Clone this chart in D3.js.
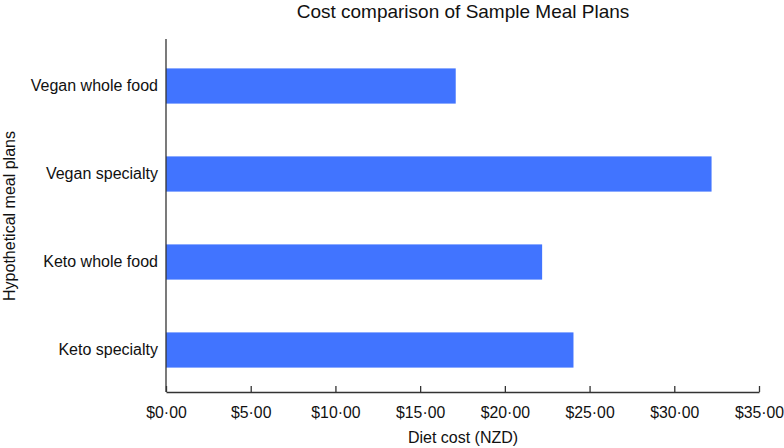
<!DOCTYPE html>
<html>
<head>
<meta charset="utf-8">
<script src="https://cdn.jsdelivr.net/npm/d3@7"></script>
<style>
  html, body { margin: 0; padding: 0; background: #fff; }
  svg { display: block; font-family: "Liberation Sans", Arial, sans-serif; }
</style>
</head>
<body>
<div id="chart"></div>
<script>
const plans = ['Vegan whole food', 'Vegan specialty', 'Keto whole food', 'Keto specialty'];
const costs = [17.1, 32.2, 22.2, 24.05];
const xTicks = [0, 5, 10, 15, 20, 25, 30, 35];

const width = 784;
const height = 448;
const margin = { top: 39, right: 25, bottom: 56, left: 166 };
const ink = '#111';

const svg = d3.select('#chart').append('svg')
  .attr('width', width).attr('height', height);

const x = d3.scaleLinear().domain([0, 35]).range([margin.left, width - margin.right]);
const y = d3.scaleBand().domain(plans).range([42, 394]).paddingInner(0.6).paddingOuter(0.3);
const axisY = height - margin.bottom;

svg.append('text').attr('x', 463).attr('y', 18).attr('text-anchor', 'middle')
  .attr('font-size', 19).attr('fill', ink).text('Cost comparison of Sample Meal Plans');

// bars
svg.append('g').selectAll('rect').data(plans).join('rect')
  .attr('x', x(0)).attr('y', (d) => y(d))
  .attr('width', (d, i) => x(costs[i]) - x(0))
  .attr('height', y.bandwidth())
  .attr('fill', '#4174ff');

// x axis, ticks pointing inward
const gx = svg.append('g').attr('transform', `translate(0,${axisY})`)
  .call(d3.axisBottom(x).tickValues(xTicks).tickSize(-6).tickPadding(15).tickSizeOuter(0)
    .tickFormat((d) => `$${d}·00`))
  .attr('font-family', null).attr('font-size', 15.8);
gx.selectAll('line, path').attr('stroke', '#333').attr('stroke-width', 1.3);
gx.selectAll('text').attr('fill', ink);

// y axis: plain line plus labels
svg.append('line').attr('x1', margin.left).attr('x2', margin.left)
  .attr('y1', margin.top).attr('y2', axisY).attr('stroke', '#333').attr('stroke-width', 1.3);
const gy = svg.append('g').attr('transform', `translate(${margin.left},0)`)
  .call(d3.axisLeft(y).tickSize(0).tickPadding(8))
  .attr('font-family', null).attr('font-size', 16);
gy.select('.domain').remove();
gy.selectAll('text').attr('fill', ink);

svg.append('text').attr('x', 463).attr('y', 443).attr('text-anchor', 'middle')
  .attr('font-size', 16).attr('fill', ink).text('Diet cost (NZD)');

svg.append('text').attr('transform', 'translate(15,216) rotate(-90)').attr('text-anchor', 'middle')
  .attr('font-size', 16).attr('fill', ink).text('Hypothetical meal plans');
</script>
</body>
</html>
